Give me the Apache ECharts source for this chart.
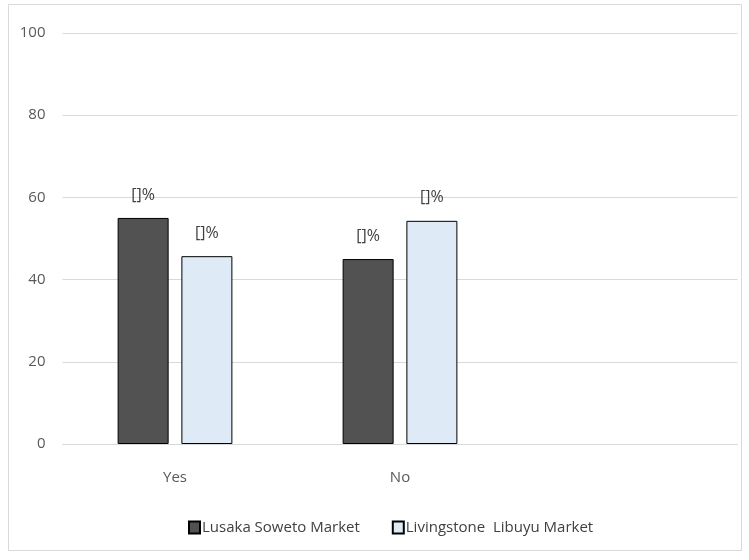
<!DOCTYPE html>
<html>
<head>
<meta charset="utf-8">
<script src="https://cdn.jsdelivr.net/npm/echarts@6/dist/echarts.min.js"></script>
<style>
  html, body { margin: 0; padding: 0; background: #fff; }
  #chart { width: 749px; height: 560px; }
</style>
</head>
<body>
<div id="chart"></div>
<script>
// Response categories (the third slot is left empty on purpose)
const categories = ['Yes', 'No', ''];
// Share of respondents per market, in percent
const lusakaSoweto = [55, 45, null];
const livingstoneLibuyu = [45.7, 54.3, null];
const seriesNames = ['Lusaka Soweto Market', 'Livingstone  Libuyu Market'];
const yTicks = [0, 20, 40, 60, 80, 100];

const FONT = '"Open Sans", sans-serif';
const chart = echarts.init(document.getElementById('chart'));

const labelStyle = {
  show: true,
  position: 'top',
  distance: 15,
  formatter: '[]%',
  color: '#404040',
  fontFamily: FONT,
  fontSize: 16
};

chart.setOption({
  animation: false,
  textStyle: { fontFamily: FONT },
  graphic: [{
    type: 'rect',
    shape: { x: 8.5, y: 4.5, width: 733, height: 546 },
    style: { fill: 'none', stroke: '#d9d9d9', lineWidth: 1 },
    silent: true
  }],
  grid: { left: 62.5, right: 11.5, top: 33, bottom: 116, containLabel: false },
  legend: {
    bottom: 20,
    left: 183,
    icon: 'rect',
    itemWidth: 11,
    itemHeight: 12,
    itemGap: 32,
    textStyle: { color: '#404040', fontFamily: FONT, fontSize: 15, padding: [0, 0, 0, -3] },
    data: seriesNames
  },
  xAxis: {
    type: 'category',
    data: categories,
    axisLine: { show: true, lineStyle: { color: '#d9d9d9', width: 1 } },
    axisTick: { show: false },
    axisLabel: { color: '#595959', fontFamily: FONT, fontSize: 15, margin: 26 }
  },
  yAxis: {
    type: 'value',
    min: 0,
    max: 100,
    interval: 20,
    axisLine: { show: false },
    axisTick: { show: false },
    splitLine: { lineStyle: { color: '#d9d9d9', width: 1 } },
    axisLabel: {
      color: '#595959', fontFamily: FONT, fontSize: 15, margin: 17,
      formatter: v => (yTicks.includes(v) ? String(v) : '')
    }
  },
  series: [
    {
      name: seriesNames[0],
      type: 'bar',
      data: lusakaSoweto,
      barWidth: 51,
      barGap: '25%',
      itemStyle: { color: '#525252', borderColor: '#000', borderWidth: 1 },
      label: labelStyle
    },
    {
      name: seriesNames[1],
      type: 'bar',
      data: livingstoneLibuyu,
      barWidth: 51,
      itemStyle: { color: '#deeaf6', borderColor: '#000', borderWidth: 1 },
      label: labelStyle
    }
  ]
});
</script>
</body>
</html>
